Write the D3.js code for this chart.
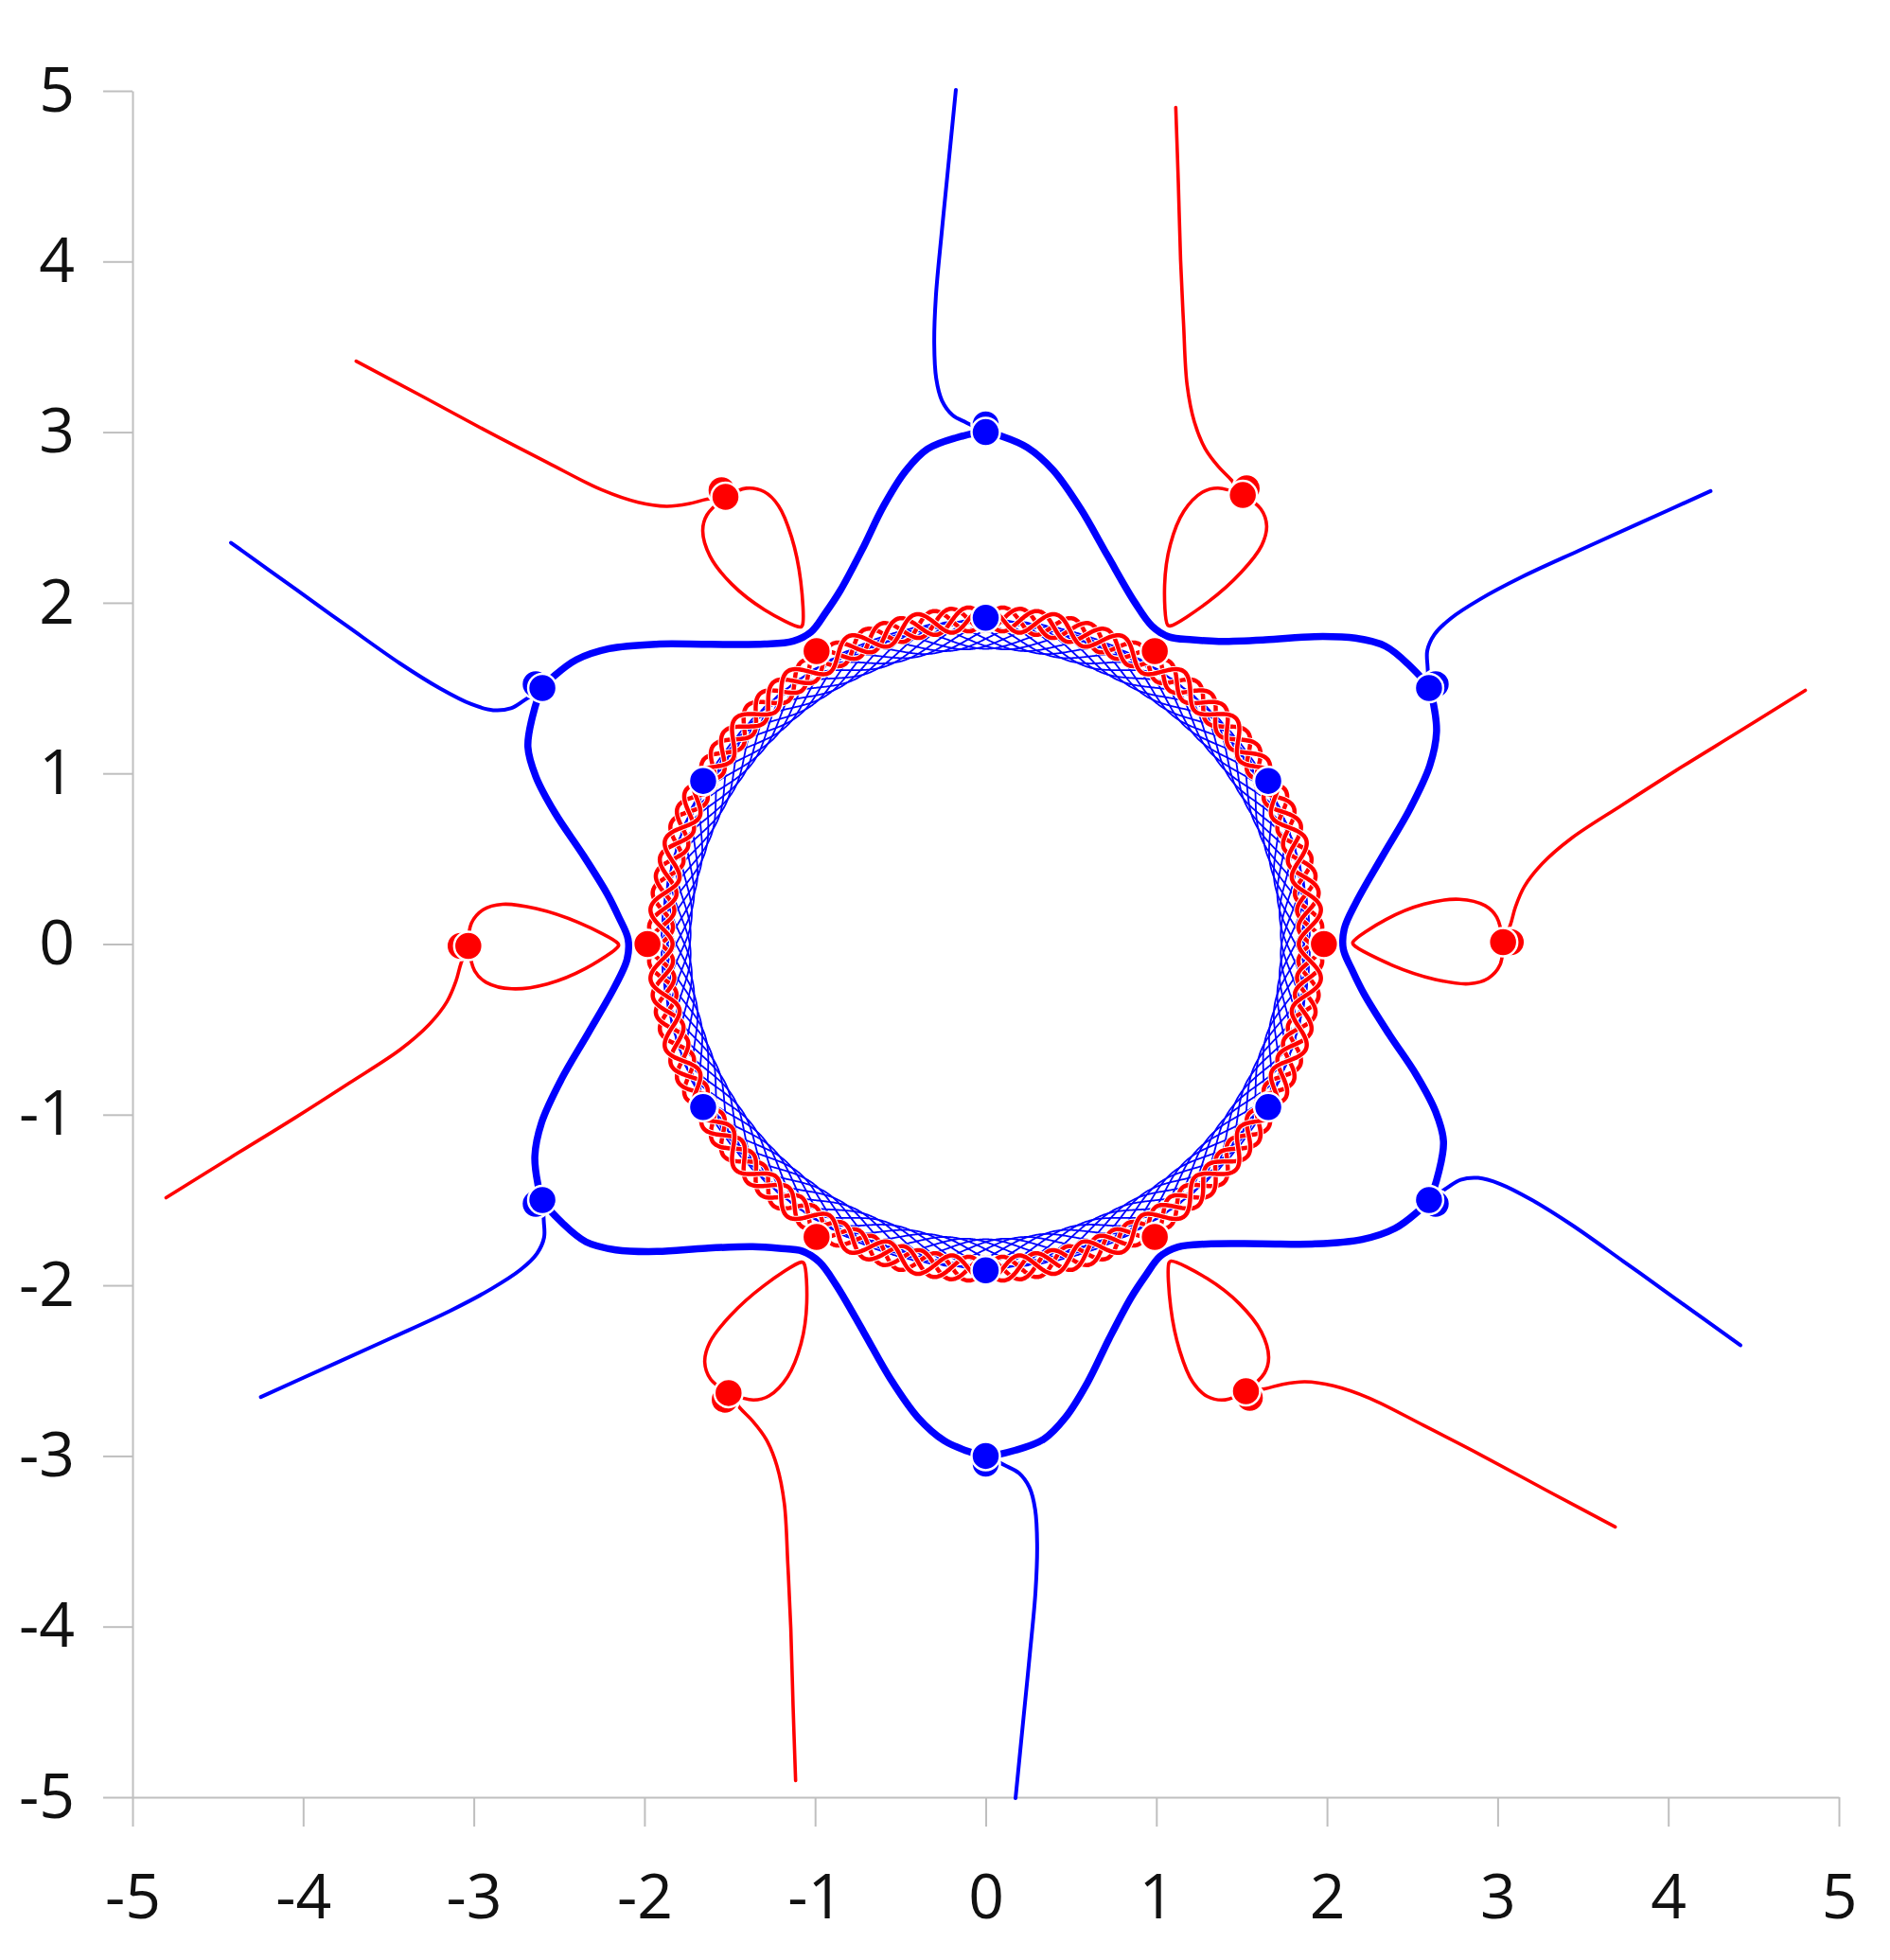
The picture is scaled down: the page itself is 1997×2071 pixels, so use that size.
<!DOCTYPE html>
<html>
<head>
<meta charset="utf-8">
<script src="https://cdn.jsdelivr.net/npm/d3@7"></script>
<style>
  body { margin: 0; background: #fff; }
</style>
</head>
<body>
<div class="canva"></div>
<script>
// ---- data ----
// the figure is six identical arms; one arm was measured between 90° and 150°
// points are [angle in degrees, radius]
const armTurns = [0, 60, 120, 180, 240, 300];

const starArm = [[90, 3.0], [93.4, 2.971], [96.7, 2.921], [99.6, 2.812], [103.1, 2.637],
  [107.4, 2.422], [112.4, 2.239], [115.8, 2.156], [119.2, 2.096], [122.4, 2.103],
  [126.4, 2.184], [132.6, 2.386], [137.7, 2.611], [141.9, 2.805], [145.2, 2.920], [148.1, 2.976]];

const blueTail = [[90, 3.0], [92.1, 3.057], [93.6, 3.107], [94.6, 3.195], [95.0, 3.327],
  [94.9, 3.530], [94.4, 3.806], [93.55, 4.172], [92.8, 4.539], [92.0, 5.009]];

const redLoop = [[120.2, 3.032], [117.7, 3.017], [116.1, 2.952], [115.3, 2.841], [115.5, 2.643],
  [117.0, 2.388], [119.9, 2.155], [120.3, 2.152], [123.5, 2.350], [125.2, 2.580],
  [125.4, 2.789], [124.4, 2.935], [123.0, 2.999], [120.2, 3.032]];

const redTail = [[120.2, 3.032], [122.1, 3.077], [124.0, 3.112], [126.1, 3.175], [128.2, 3.294],
  [130.2, 3.484], [132.3, 3.814], [134.1, 4.169], [135.8, 4.602], [137.2, 5.028]];

const blueDots = [[90, 3.045], [90, 3.0], [90, 1.912]];
const redDots = [[120.2, 3.077], [120.2, 3.032], [120, 1.982]];

// inner ring: red strands braided into overlapping ovals over a thin blue mesh
const braidRadius = 1.905, braidSwing = 0.07, braidWaves = 30;
const braidPhases = [0, 90, 180, 270];
const meshRadius = 1.815, meshSwing = 0.085, meshWaves = 11;
const meshPhases = [0, 36, 72, 108, 144, 180, 216, 252, 288, 324];

const xTicks = [-5, -4, -3, -2, -1, 0, 1, 2, 3, 4, 5];
const yTicks = [-5, -4, -3, -2, -1, 0, 1, 2, 3, 4, 5];

// ---- layout ----
const W = 1997, H = 2071;
const margin = {top: 96, right: 54, bottom: 172, left: 140};

const svg = d3.select(".canva").append("svg")
  .attr("width", W)
  .attr("height", H);

const x = d3.scaleLinear().domain([-5, 5]).range([margin.left, W - margin.right]);
const y = d3.scaleLinear().domain([-5, 5]).range([H - margin.bottom, margin.top]);

const BLUE = "#0000ff", RED = "#ff0000";

function toXY(p, turn) {
  const a = (p[0] + turn) * Math.PI / 180;
  return [x(p[1] * Math.cos(a)), y(p[1] * Math.sin(a))];
}

const smooth = d3.line().curve(d3.curveCatmullRom.alpha(0.5));
const smoothClosed = d3.line().curve(d3.curveCatmullRomClosed.alpha(0.5));

// axes
const xAxis = svg.append("g")
  .attr("transform", `translate(0,${y(-5)})`)
  .call(d3.axisBottom(x).tickValues(xTicks).tickSize(31).tickSizeOuter(0)
    .tickPadding(50).tickFormat(d => String(d)));

const yAxis = svg.append("g")
  .attr("transform", `translate(${x(-5)},0)`)
  .call(d3.axisLeft(y).tickValues(yTicks).tickSize(31).tickSizeOuter(0)
    .tickPadding(30).tickFormat(d => String(d)));

[xAxis, yAxis].forEach(g => {
  g.selectAll("path, line").attr("stroke", "#bfbfbf").attr("stroke-width", 2);
  g.selectAll("text")
    .attr("font-family", "'Open Sans', 'Noto Sans', sans-serif")
    .attr("font-size", 66)
    .attr("fill", "#111");
});

// ---- inner ring: r = radius + swing * sin(waves * angle + phase) ----
const ring = svg.append("g").attr("fill", "none");
const rad = Math.PI / 180;
const ringSteps = d3.range(0, 360, 0.2);

function strand(radius, swing, waves, ph) {
  return ringSteps.map(t => {
    const r = radius + swing * Math.sin(waves * t * rad + ph * rad);
    return [x(r * Math.cos(t * rad)), y(r * Math.sin(t * rad))];
  });
}

meshPhases.forEach(ph => {
  ring.append("path")
    .attr("d", smoothClosed(strand(meshRadius, meshSwing, meshWaves, ph)))
    .attr("stroke", BLUE)
    .attr("stroke-width", 1.8);
});

braidPhases.forEach(ph => {
  const d = smoothClosed(strand(braidRadius, braidSwing, braidWaves, ph));
  ring.append("path").attr("d", d).attr("stroke", "#fff").attr("stroke-width", 6.5);
  ring.append("path").attr("d", d).attr("stroke", RED).attr("stroke-width", 4.5);
});

// star
const starPts = armTurns.flatMap(t => starArm.map(p => toXY(p, t)));
svg.append("path")
  .attr("d", smoothClosed(starPts))
  .attr("fill", "none")
  .attr("stroke", BLUE)
  .attr("stroke-width", 7.5);

// tails and loops
const arms = svg.append("g").attr("fill", "none").attr("stroke-linecap", "round");

armTurns.forEach(t => {
  arms.append("path").attr("d", smooth(blueTail.map(p => toXY(p, t))))
    .attr("stroke", BLUE).attr("stroke-width", 4);
  arms.append("path").attr("d", smooth(redTail.map(p => toXY(p, t))))
    .attr("stroke", RED).attr("stroke-width", 3.6);
  arms.append("path").attr("d", smooth(redLoop.map(p => toXY(p, t))))
    .attr("stroke", RED).attr("stroke-width", 3.6);
});

// dots (the first of each list sits just behind the second)
armTurns.forEach(t => {
  svg.append("g").selectAll("circle")
    .data(redDots)
    .join("circle")
    .attr("cx", p => toXY(p, t)[0])
    .attr("cy", p => toXY(p, t)[1])
    .attr("r", 15)
    .attr("fill", RED)
    .attr("stroke", "#fff")
    .attr("stroke-width", 2.5);

  svg.append("g").selectAll("circle")
    .data(blueDots)
    .join("circle")
    .attr("cx", p => toXY(p, t)[0])
    .attr("cy", p => toXY(p, t)[1])
    .attr("r", 15)
    .attr("fill", BLUE)
    .attr("stroke", "#fff")
    .attr("stroke-width", 2.5);
});
</script>
</body>
</html>
